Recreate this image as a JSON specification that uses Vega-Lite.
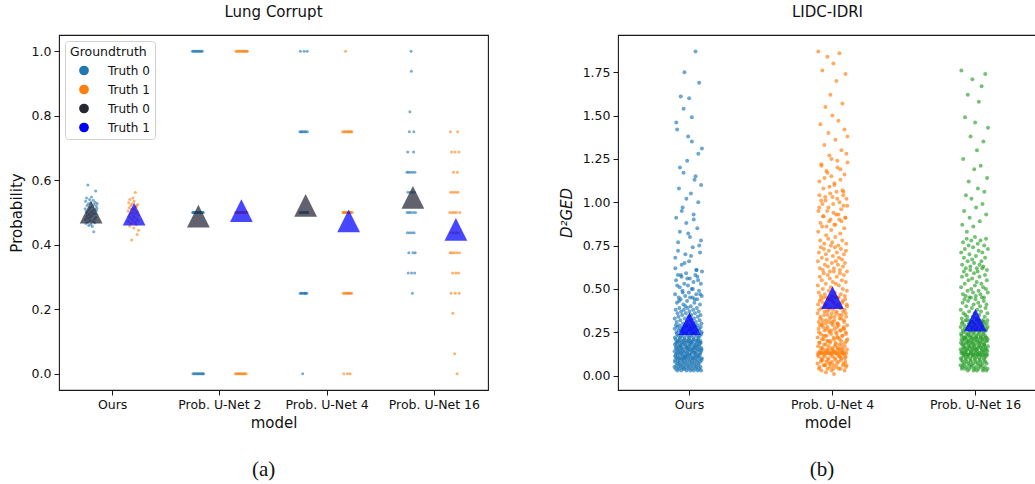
{
"$schema": "https://vega.github.io/schema/vega-lite/v6.json",
"background": "white",
"padding": {"left": 8, "top": 4, "right": 0, "bottom": 0},
"config": {
 "font": "DejaVu Sans",
 "view": {"stroke": "#1a1a1a", "strokeWidth": 1.1},
 "axis": {"grid": false, "domain": false, "tickColor": "#1a1a1a", "tickSize": 5, "tickWidth": 1, "labelFont": "DejaVu Sans", "labelFontSize": 12.5, "labelColor": "#111", "labelPadding": 3, "titleFont": "DejaVu Sans", "titleFontSize": 15, "titleFontWeight": "normal", "titleColor": "#111"},
 "axisX": {"labelAngle": 0, "titlePadding": 5},
 "axisY": {"titlePadding": 7},
 "title": {"font": "DejaVu Sans", "fontSize": 15, "fontWeight": "normal", "color": "#111", "anchor": "middle"}
},
"resolve": {"scale": {"color": "independent"}, "legend": {"color": "independent"}},
"datasets": {
"lung": [
{"m":"Ours","g":"Truth 0","v":0.512},{"m":"Ours","g":"Truth 0","v":0.478},{"m":"Ours","g":"Truth 0","v":0.535},{"m":"Ours","g":"Truth 0","v":0.466},{"m":"Ours","g":"Truth 0","v":0.503},{"m":"Ours","g":"Truth 0","v":0.545},{"m":"Ours","g":"Truth 0","v":0.488},{"m":"Ours","g":"Truth 0","v":0.522},{"m":"Ours","g":"Truth 0","v":0.470},{"m":"Ours","g":"Truth 0","v":0.498},{"m":"Ours","g":"Truth 0","v":0.585},{"m":"Ours","g":"Truth 0","v":0.482},{"m":"Ours","g":"Truth 0","v":0.527},{"m":"Ours","g":"Truth 0","v":0.460},{"m":"Ours","g":"Truth 0","v":0.508},{"m":"Ours","g":"Truth 0","v":0.493},{"m":"Ours","g":"Truth 0","v":0.540},{"m":"Ours","g":"Truth 0","v":0.475},{"m":"Ours","g":"Truth 0","v":0.515},{"m":"Ours","g":"Truth 0","v":0.486},{"m":"Ours","g":"Truth 0","v":0.530},{"m":"Ours","g":"Truth 0","v":0.463},{"m":"Ours","g":"Truth 0","v":0.500},{"m":"Ours","g":"Truth 0","v":0.548},{"m":"Ours","g":"Truth 0","v":0.490},{"m":"Ours","g":"Truth 0","v":0.518},{"m":"Ours","g":"Truth 0","v":0.457},{"m":"Ours","g":"Truth 0","v":0.505},{"m":"Ours","g":"Truth 0","v":0.472},{"m":"Ours","g":"Truth 0","v":0.538},{"m":"Ours","g":"Truth 0","v":0.495},{"m":"Ours","g":"Truth 0","v":0.440},{"m":"Ours","g":"Truth 0","v":0.525},{"m":"Ours","g":"Truth 0","v":0.480},{"m":"Ours","g":"Truth 0","v":0.510},{"m":"Ours","g":"Truth 0","v":0.468},{"m":"Ours","g":"Truth 0","v":0.532},{"m":"Ours","g":"Truth 0","v":0.497},{"m":"Ours","g":"Truth 0","v":0.567},{"m":"Ours","g":"Truth 0","v":0.485},{"m":"Ours","g":"Truth 0","v":0.520},{"m":"Ours","g":"Truth 0","v":0.506},{"m":"Ours","g":"Truth 0","v":0.513},{"m":"Ours","g":"Truth 0","v":0.528},
{"m":"Ours","g":"Truth 1","v":0.505},{"m":"Ours","g":"Truth 1","v":0.472},{"m":"Ours","g":"Truth 1","v":0.530},{"m":"Ours","g":"Truth 1","v":0.487},{"m":"Ours","g":"Truth 1","v":0.515},{"m":"Ours","g":"Truth 1","v":0.458},{"m":"Ours","g":"Truth 1","v":0.540},{"m":"Ours","g":"Truth 1","v":0.495},{"m":"Ours","g":"Truth 1","v":0.482},{"m":"Ours","g":"Truth 1","v":0.522},{"m":"Ours","g":"Truth 1","v":0.466},{"m":"Ours","g":"Truth 1","v":0.510},{"m":"Ours","g":"Truth 1","v":0.415},{"m":"Ours","g":"Truth 1","v":0.500},{"m":"Ours","g":"Truth 1","v":0.527},{"m":"Ours","g":"Truth 1","v":0.477},{"m":"Ours","g":"Truth 1","v":0.545},{"m":"Ours","g":"Truth 1","v":0.490},{"m":"Ours","g":"Truth 1","v":0.512},{"m":"Ours","g":"Truth 1","v":0.452},{"m":"Ours","g":"Truth 1","v":0.535},{"m":"Ours","g":"Truth 1","v":0.485},{"m":"Ours","g":"Truth 1","v":0.507},{"m":"Ours","g":"Truth 1","v":0.470},{"m":"Ours","g":"Truth 1","v":0.562},{"m":"Ours","g":"Truth 1","v":0.498},{"m":"Ours","g":"Truth 1","v":0.517},{"m":"Ours","g":"Truth 1","v":0.462},{"m":"Ours","g":"Truth 1","v":0.520},{"m":"Ours","g":"Truth 1","v":0.480},{"m":"Ours","g":"Truth 1","v":0.432},{"m":"Ours","g":"Truth 1","v":0.502},{"m":"Ours","g":"Truth 1","v":0.525},{"m":"Ours","g":"Truth 1","v":0.475},{"m":"Ours","g":"Truth 1","v":0.492},{"m":"Ours","g":"Truth 1","v":0.445},
{"m":"Prob. U-Net 2","g":"Truth 0","v":1},{"m":"Prob. U-Net 2","g":"Truth 0","v":0.5},{"m":"Prob. U-Net 2","g":"Truth 0","v":0},{"m":"Prob. U-Net 2","g":"Truth 0","v":0.5},{"m":"Prob. U-Net 2","g":"Truth 0","v":1},{"m":"Prob. U-Net 2","g":"Truth 0","v":0.5},{"m":"Prob. U-Net 2","g":"Truth 0","v":0},{"m":"Prob. U-Net 2","g":"Truth 0","v":0.5},{"m":"Prob. U-Net 2","g":"Truth 0","v":1},{"m":"Prob. U-Net 2","g":"Truth 0","v":0.5},{"m":"Prob. U-Net 2","g":"Truth 0","v":0},{"m":"Prob. U-Net 2","g":"Truth 0","v":0.5},{"m":"Prob. U-Net 2","g":"Truth 0","v":1},{"m":"Prob. U-Net 2","g":"Truth 0","v":0.5},{"m":"Prob. U-Net 2","g":"Truth 0","v":0},{"m":"Prob. U-Net 2","g":"Truth 0","v":0.5},{"m":"Prob. U-Net 2","g":"Truth 0","v":1},{"m":"Prob. U-Net 2","g":"Truth 0","v":0.5},{"m":"Prob. U-Net 2","g":"Truth 0","v":0},{"m":"Prob. U-Net 2","g":"Truth 0","v":0.5},{"m":"Prob. U-Net 2","g":"Truth 0","v":1},{"m":"Prob. U-Net 2","g":"Truth 0","v":0.5},{"m":"Prob. U-Net 2","g":"Truth 0","v":0},{"m":"Prob. U-Net 2","g":"Truth 0","v":0.5},{"m":"Prob. U-Net 2","g":"Truth 0","v":1},{"m":"Prob. U-Net 2","g":"Truth 0","v":0.5},{"m":"Prob. U-Net 2","g":"Truth 0","v":0},{"m":"Prob. U-Net 2","g":"Truth 0","v":0.5},{"m":"Prob. U-Net 2","g":"Truth 0","v":1},{"m":"Prob. U-Net 2","g":"Truth 0","v":0.5},{"m":"Prob. U-Net 2","g":"Truth 0","v":0},{"m":"Prob. U-Net 2","g":"Truth 0","v":0.5},{"m":"Prob. U-Net 2","g":"Truth 0","v":1},{"m":"Prob. U-Net 2","g":"Truth 0","v":0.5},{"m":"Prob. U-Net 2","g":"Truth 0","v":0},{"m":"Prob. U-Net 2","g":"Truth 0","v":0.5},{"m":"Prob. U-Net 2","g":"Truth 0","v":1},{"m":"Prob. U-Net 2","g":"Truth 0","v":0.5},{"m":"Prob. U-Net 2","g":"Truth 0","v":0},{"m":"Prob. U-Net 2","g":"Truth 0","v":0.5},{"m":"Prob. U-Net 2","g":"Truth 0","v":0},
{"m":"Prob. U-Net 2","g":"Truth 1","v":0},{"m":"Prob. U-Net 2","g":"Truth 1","v":0.5},{"m":"Prob. U-Net 2","g":"Truth 1","v":1},{"m":"Prob. U-Net 2","g":"Truth 1","v":0.5},{"m":"Prob. U-Net 2","g":"Truth 1","v":0},{"m":"Prob. U-Net 2","g":"Truth 1","v":0.5},{"m":"Prob. U-Net 2","g":"Truth 1","v":1},{"m":"Prob. U-Net 2","g":"Truth 1","v":0.5},{"m":"Prob. U-Net 2","g":"Truth 1","v":0},{"m":"Prob. U-Net 2","g":"Truth 1","v":0.5},{"m":"Prob. U-Net 2","g":"Truth 1","v":1},{"m":"Prob. U-Net 2","g":"Truth 1","v":0.5},{"m":"Prob. U-Net 2","g":"Truth 1","v":0},{"m":"Prob. U-Net 2","g":"Truth 1","v":0.5},{"m":"Prob. U-Net 2","g":"Truth 1","v":1},{"m":"Prob. U-Net 2","g":"Truth 1","v":0.5},{"m":"Prob. U-Net 2","g":"Truth 1","v":0},{"m":"Prob. U-Net 2","g":"Truth 1","v":0.5},{"m":"Prob. U-Net 2","g":"Truth 1","v":1},{"m":"Prob. U-Net 2","g":"Truth 1","v":0.5},{"m":"Prob. U-Net 2","g":"Truth 1","v":0},{"m":"Prob. U-Net 2","g":"Truth 1","v":0.5},{"m":"Prob. U-Net 2","g":"Truth 1","v":1},{"m":"Prob. U-Net 2","g":"Truth 1","v":0.5},{"m":"Prob. U-Net 2","g":"Truth 1","v":0},{"m":"Prob. U-Net 2","g":"Truth 1","v":0.5},{"m":"Prob. U-Net 2","g":"Truth 1","v":1},{"m":"Prob. U-Net 2","g":"Truth 1","v":0.5},{"m":"Prob. U-Net 2","g":"Truth 1","v":0},{"m":"Prob. U-Net 2","g":"Truth 1","v":0.5},{"m":"Prob. U-Net 2","g":"Truth 1","v":1},{"m":"Prob. U-Net 2","g":"Truth 1","v":0.5},{"m":"Prob. U-Net 2","g":"Truth 1","v":0},{"m":"Prob. U-Net 2","g":"Truth 1","v":0.5},{"m":"Prob. U-Net 2","g":"Truth 1","v":1},{"m":"Prob. U-Net 2","g":"Truth 1","v":0.5},{"m":"Prob. U-Net 2","g":"Truth 1","v":0},{"m":"Prob. U-Net 2","g":"Truth 1","v":0.5},{"m":"Prob. U-Net 2","g":"Truth 1","v":1},{"m":"Prob. U-Net 2","g":"Truth 1","v":0.5},{"m":"Prob. U-Net 2","g":"Truth 1","v":1},
{"m":"Prob. U-Net 4","g":"Truth 0","v":0.5},{"m":"Prob. U-Net 4","g":"Truth 0","v":0.75},{"m":"Prob. U-Net 4","g":"Truth 0","v":0.25},{"m":"Prob. U-Net 4","g":"Truth 0","v":1},{"m":"Prob. U-Net 4","g":"Truth 0","v":0.5},{"m":"Prob. U-Net 4","g":"Truth 0","v":0.75},{"m":"Prob. U-Net 4","g":"Truth 0","v":0.25},{"m":"Prob. U-Net 4","g":"Truth 0","v":0.5},{"m":"Prob. U-Net 4","g":"Truth 0","v":0.25},{"m":"Prob. U-Net 4","g":"Truth 0","v":0.75},{"m":"Prob. U-Net 4","g":"Truth 0","v":0.5},{"m":"Prob. U-Net 4","g":"Truth 0","v":0},{"m":"Prob. U-Net 4","g":"Truth 0","v":0.5},{"m":"Prob. U-Net 4","g":"Truth 0","v":0.75},{"m":"Prob. U-Net 4","g":"Truth 0","v":0.25},{"m":"Prob. U-Net 4","g":"Truth 0","v":0.5},{"m":"Prob. U-Net 4","g":"Truth 0","v":1},{"m":"Prob. U-Net 4","g":"Truth 0","v":0.25},{"m":"Prob. U-Net 4","g":"Truth 0","v":0.5},{"m":"Prob. U-Net 4","g":"Truth 0","v":0.75},{"m":"Prob. U-Net 4","g":"Truth 0","v":0.25},{"m":"Prob. U-Net 4","g":"Truth 0","v":0.5},{"m":"Prob. U-Net 4","g":"Truth 0","v":0.75},{"m":"Prob. U-Net 4","g":"Truth 0","v":0.25},{"m":"Prob. U-Net 4","g":"Truth 0","v":0.5},{"m":"Prob. U-Net 4","g":"Truth 0","v":0.5},{"m":"Prob. U-Net 4","g":"Truth 0","v":0.25},{"m":"Prob. U-Net 4","g":"Truth 0","v":1},{"m":"Prob. U-Net 4","g":"Truth 0","v":0.75},{"m":"Prob. U-Net 4","g":"Truth 0","v":0.5},{"m":"Prob. U-Net 4","g":"Truth 0","v":0.5},
{"m":"Prob. U-Net 4","g":"Truth 1","v":0.75},{"m":"Prob. U-Net 4","g":"Truth 1","v":0.5},{"m":"Prob. U-Net 4","g":"Truth 1","v":0.25},{"m":"Prob. U-Net 4","g":"Truth 1","v":0.5},{"m":"Prob. U-Net 4","g":"Truth 1","v":0},{"m":"Prob. U-Net 4","g":"Truth 1","v":0.75},{"m":"Prob. U-Net 4","g":"Truth 1","v":0.5},{"m":"Prob. U-Net 4","g":"Truth 1","v":0.25},{"m":"Prob. U-Net 4","g":"Truth 1","v":0.75},{"m":"Prob. U-Net 4","g":"Truth 1","v":0.5},{"m":"Prob. U-Net 4","g":"Truth 1","v":1},{"m":"Prob. U-Net 4","g":"Truth 1","v":0.25},{"m":"Prob. U-Net 4","g":"Truth 1","v":0.5},{"m":"Prob. U-Net 4","g":"Truth 1","v":0.75},{"m":"Prob. U-Net 4","g":"Truth 1","v":0.5},{"m":"Prob. U-Net 4","g":"Truth 1","v":0.25},{"m":"Prob. U-Net 4","g":"Truth 1","v":0},{"m":"Prob. U-Net 4","g":"Truth 1","v":0.75},{"m":"Prob. U-Net 4","g":"Truth 1","v":0.5},{"m":"Prob. U-Net 4","g":"Truth 1","v":0.25},{"m":"Prob. U-Net 4","g":"Truth 1","v":0.75},{"m":"Prob. U-Net 4","g":"Truth 1","v":0.5},{"m":"Prob. U-Net 4","g":"Truth 1","v":0.25},{"m":"Prob. U-Net 4","g":"Truth 1","v":0.5},{"m":"Prob. U-Net 4","g":"Truth 1","v":0.75},{"m":"Prob. U-Net 4","g":"Truth 1","v":0},{"m":"Prob. U-Net 4","g":"Truth 1","v":0.25},{"m":"Prob. U-Net 4","g":"Truth 1","v":0.5},{"m":"Prob. U-Net 4","g":"Truth 1","v":0.75},{"m":"Prob. U-Net 4","g":"Truth 1","v":0.5},{"m":"Prob. U-Net 4","g":"Truth 1","v":0.25},{"m":"Prob. U-Net 4","g":"Truth 1","v":0.75},{"m":"Prob. U-Net 4","g":"Truth 1","v":0.5},
{"m":"Prob. U-Net 16","g":"Truth 0","v":0.625},{"m":"Prob. U-Net 16","g":"Truth 0","v":0.5},{"m":"Prob. U-Net 16","g":"Truth 0","v":0.4375},{"m":"Prob. U-Net 16","g":"Truth 0","v":0.6875},{"m":"Prob. U-Net 16","g":"Truth 0","v":0.5625},{"m":"Prob. U-Net 16","g":"Truth 0","v":0.3125},{"m":"Prob. U-Net 16","g":"Truth 0","v":0.625},{"m":"Prob. U-Net 16","g":"Truth 0","v":0.375},{"m":"Prob. U-Net 16","g":"Truth 0","v":0.5},{"m":"Prob. U-Net 16","g":"Truth 0","v":0.75},{"m":"Prob. U-Net 16","g":"Truth 0","v":0.4375},{"m":"Prob. U-Net 16","g":"Truth 0","v":0.8125},{"m":"Prob. U-Net 16","g":"Truth 0","v":0.5625},{"m":"Prob. U-Net 16","g":"Truth 0","v":0.625},{"m":"Prob. U-Net 16","g":"Truth 0","v":0.5},{"m":"Prob. U-Net 16","g":"Truth 0","v":1},{"m":"Prob. U-Net 16","g":"Truth 0","v":0.9375},{"m":"Prob. U-Net 16","g":"Truth 0","v":0.3125},{"m":"Prob. U-Net 16","g":"Truth 0","v":0.4375},{"m":"Prob. U-Net 16","g":"Truth 0","v":0.5625},{"m":"Prob. U-Net 16","g":"Truth 0","v":0.25},{"m":"Prob. U-Net 16","g":"Truth 0","v":0.625},{"m":"Prob. U-Net 16","g":"Truth 0","v":0.375},{"m":"Prob. U-Net 16","g":"Truth 0","v":0.5},{"m":"Prob. U-Net 16","g":"Truth 0","v":0.6875},{"m":"Prob. U-Net 16","g":"Truth 0","v":0.75},{"m":"Prob. U-Net 16","g":"Truth 0","v":0.4375},{"m":"Prob. U-Net 16","g":"Truth 0","v":0.5625},{"m":"Prob. U-Net 16","g":"Truth 0","v":0.3125},{"m":"Prob. U-Net 16","g":"Truth 0","v":0.625},{"m":"Prob. U-Net 16","g":"Truth 0","v":0.375},{"m":"Prob. U-Net 16","g":"Truth 0","v":0.5},
{"m":"Prob. U-Net 16","g":"Truth 1","v":0.5},{"m":"Prob. U-Net 16","g":"Truth 1","v":0.375},{"m":"Prob. U-Net 16","g":"Truth 1","v":0.75},{"m":"Prob. U-Net 16","g":"Truth 1","v":0.5625},{"m":"Prob. U-Net 16","g":"Truth 1","v":0.25},{"m":"Prob. U-Net 16","g":"Truth 1","v":0.4375},{"m":"Prob. U-Net 16","g":"Truth 1","v":0.6875},{"m":"Prob. U-Net 16","g":"Truth 1","v":0.375},{"m":"Prob. U-Net 16","g":"Truth 1","v":0.5},{"m":"Prob. U-Net 16","g":"Truth 1","v":0.3125},{"m":"Prob. U-Net 16","g":"Truth 1","v":0.1875},{"m":"Prob. U-Net 16","g":"Truth 1","v":0.5625},{"m":"Prob. U-Net 16","g":"Truth 1","v":0.625},{"m":"Prob. U-Net 16","g":"Truth 1","v":0.4375},{"m":"Prob. U-Net 16","g":"Truth 1","v":0.375},{"m":"Prob. U-Net 16","g":"Truth 1","v":0.5},{"m":"Prob. U-Net 16","g":"Truth 1","v":0.0625},{"m":"Prob. U-Net 16","g":"Truth 1","v":0.6875},{"m":"Prob. U-Net 16","g":"Truth 1","v":0.25},{"m":"Prob. U-Net 16","g":"Truth 1","v":0.5625},{"m":"Prob. U-Net 16","g":"Truth 1","v":0.3125},{"m":"Prob. U-Net 16","g":"Truth 1","v":0.4375},{"m":"Prob. U-Net 16","g":"Truth 1","v":0.5},{"m":"Prob. U-Net 16","g":"Truth 1","v":0.375},{"m":"Prob. U-Net 16","g":"Truth 1","v":0},{"m":"Prob. U-Net 16","g":"Truth 1","v":0.625},{"m":"Prob. U-Net 16","g":"Truth 1","v":0.75},{"m":"Prob. U-Net 16","g":"Truth 1","v":0.5625},{"m":"Prob. U-Net 16","g":"Truth 1","v":0.4375},{"m":"Prob. U-Net 16","g":"Truth 1","v":0.3125},{"m":"Prob. U-Net 16","g":"Truth 1","v":0.6875},{"m":"Prob. U-Net 16","g":"Truth 1","v":0.25},{"m":"Prob. U-Net 16","g":"Truth 1","v":0.375},{"m":"Prob. U-Net 16","g":"Truth 1","v":0.5}
],
"lungmean": [
{"m":"Ours","g":"Truth 0 mean","v":0.501},{"m":"Ours","g":"Truth 1 mean","v":0.495},
{"m":"Prob. U-Net 2","g":"Truth 0 mean","v":0.489},{"m":"Prob. U-Net 2","g":"Truth 1 mean","v":0.506},
{"m":"Prob. U-Net 4","g":"Truth 0 mean","v":0.522},{"m":"Prob. U-Net 4","g":"Truth 1 mean","v":0.474},
{"m":"Prob. U-Net 16","g":"Truth 0 mean","v":0.547},{"m":"Prob. U-Net 16","g":"Truth 1 mean","v":0.448}
],
"ged": [
{"m":"Ours","v":0.05},{"m":"Ours","v":0.14},{"m":"Ours","v":0.27},{"m":"Ours","v":0.33},{"m":"Ours","v":0.08},{"m":"Ours","v":0.18},{"m":"Ours","v":0.22},{"m":"Ours","v":0.47},{"m":"Ours","v":0.11},{"m":"Ours","v":0.68},{"m":"Ours","v":0.62},
{"m":"Ours","v":0.09},{"m":"Ours","v":0.12},{"m":"Ours","v":0.21},{"m":"Ours","v":0.38},{"m":"Ours","v":0.04},{"m":"Ours","v":0.16},{"m":"Ours","v":0.29},{"m":"Ours","v":0.55},{"m":"Ours","v":0.19},{"m":"Ours","v":0.91},{"m":"Ours","v":1.46},
{"m":"Ours","v":0.06},{"m":"Ours","v":0.17},{"m":"Ours","v":0.25},{"m":"Ours","v":0.31},{"m":"Ours","v":0.10},{"m":"Ours","v":0.13},{"m":"Ours","v":0.24},{"m":"Ours","v":0.42},{"m":"Ours","v":0.15},{"m":"Ours","v":1.42},{"m":"Ours","v":0.52},
{"m":"Ours","v":0.03},{"m":"Ours","v":0.19},{"m":"Ours","v":0.28},{"m":"Ours","v":0.36},{"m":"Ours","v":0.07},{"m":"Ours","v":0.11},{"m":"Ours","v":0.20},{"m":"Ours","v":0.58},{"m":"Ours","v":0.13},{"m":"Ours","v":0.72},{"m":"Ours","v":0.77},
{"m":"Ours","v":0.08},{"m":"Ours","v":0.15},{"m":"Ours","v":0.23},{"m":"Ours","v":0.34},{"m":"Ours","v":0.05},{"m":"Ours","v":0.20},{"m":"Ours","v":0.26},{"m":"Ours","v":0.45},{"m":"Ours","v":0.17},{"m":"Ours","v":1.08},{"m":"Ours","v":0.43},
{"m":"Ours","v":0.04},{"m":"Ours","v":0.10},{"m":"Ours","v":0.29},{"m":"Ours","v":0.39},{"m":"Ours","v":0.09},{"m":"Ours","v":0.14},{"m":"Ours","v":0.21},{"m":"Ours","v":0.51},{"m":"Ours","v":0.12},{"m":"Ours","v":0.83},{"m":"Ours","v":1.20},
{"m":"Ours","v":0.07},{"m":"Ours","v":0.18},{"m":"Ours","v":0.22},{"m":"Ours","v":0.32},{"m":"Ours","v":0.06},{"m":"Ours","v":0.17},{"m":"Ours","v":0.27},{"m":"Ours","v":0.44},{"m":"Ours","v":0.16},{"m":"Ours","v":1.61},{"m":"Ours","v":0.58},
{"m":"Ours","v":0.10},{"m":"Ours","v":0.13},{"m":"Ours","v":0.26},{"m":"Ours","v":0.37},{"m":"Ours","v":0.03},{"m":"Ours","v":0.19},{"m":"Ours","v":0.23},{"m":"Ours","v":0.57},{"m":"Ours","v":0.14},{"m":"Ours","v":0.64},{"m":"Ours","v":0.95},
{"m":"Ours","v":0.05},{"m":"Ours","v":0.16},{"m":"Ours","v":0.20},{"m":"Ours","v":0.35},{"m":"Ours","v":0.08},{"m":"Ours","v":0.12},{"m":"Ours","v":0.28},{"m":"Ours","v":0.49},{"m":"Ours","v":0.18},{"m":"Ours","v":0.97},{"m":"Ours","v":0.48},
{"m":"Ours","v":0.09},{"m":"Ours","v":0.11},{"m":"Ours","v":0.24},{"m":"Ours","v":0.30},{"m":"Ours","v":0.04},{"m":"Ours","v":0.15},{"m":"Ours","v":0.25},{"m":"Ours","v":0.41},{"m":"Ours","v":0.10},{"m":"Ours","v":1.17},{"m":"Ours","v":1.54},
{"m":"Ours","v":0.06},{"m":"Ours","v":0.20},{"m":"Ours","v":0.27},{"m":"Ours","v":0.38},{"m":"Ours","v":0.07},{"m":"Ours","v":0.13},{"m":"Ours","v":0.22},{"m":"Ours","v":0.53},{"m":"Ours","v":0.19},{"m":"Ours","v":1.75},{"m":"Ours","v":0.65},
{"m":"Ours","v":0.04},{"m":"Ours","v":0.14},{"m":"Ours","v":0.21},{"m":"Ours","v":0.33},{"m":"Ours","v":0.10},{"m":"Ours","v":0.18},{"m":"Ours","v":0.29},{"m":"Ours","v":0.46},{"m":"Ours","v":0.11},{"m":"Ours","v":0.70},{"m":"Ours","v":0.40},
{"m":"Ours","v":0.08},{"m":"Ours","v":0.17},{"m":"Ours","v":0.25},{"m":"Ours","v":0.36},{"m":"Ours","v":0.05},{"m":"Ours","v":0.11},{"m":"Ours","v":0.24},{"m":"Ours","v":0.59},{"m":"Ours","v":0.16},{"m":"Ours","v":0.88},{"m":"Ours","v":1.02},
{"m":"Ours","v":0.03},{"m":"Ours","v":0.12},{"m":"Ours","v":0.28},{"m":"Ours","v":0.31},{"m":"Ours","v":0.09},{"m":"Ours","v":0.16},{"m":"Ours","v":0.20},{"m":"Ours","v":0.43},{"m":"Ours","v":0.13},{"m":"Ours","v":1.24},{"m":"Ours","v":0.56},
{"m":"Ours","v":0.07},{"m":"Ours","v":0.19},{"m":"Ours","v":0.23},{"m":"Ours","v":0.39},{"m":"Ours","v":0.06},{"m":"Ours","v":0.14},{"m":"Ours","v":0.26},{"m":"Ours","v":0.52},{"m":"Ours","v":0.17},{"m":"Ours","v":1.38},{"m":"Ours","v":0.82},
{"m":"Ours","v":0.10},{"m":"Ours","v":0.15},{"m":"Ours","v":0.29},{"m":"Ours","v":0.34},{"m":"Ours","v":0.04},{"m":"Ours","v":0.20},{"m":"Ours","v":0.21},{"m":"Ours","v":0.48},{"m":"Ours","v":0.12},{"m":"Ours","v":0.66},{"m":"Ours","v":1.60},
{"m":"Ours","v":0.05},{"m":"Ours","v":0.11},{"m":"Ours","v":0.22},{"m":"Ours","v":0.37},{"m":"Ours","v":0.08},{"m":"Ours","v":0.17},{"m":"Ours","v":0.27},{"m":"Ours","v":0.56},{"m":"Ours","v":0.15},{"m":"Ours","v":0.80},{"m":"Ours","v":0.45},
{"m":"Ours","v":0.09},{"m":"Ours","v":0.18},{"m":"Ours","v":0.26},{"m":"Ours","v":0.32},{"m":"Ours","v":0.03},{"m":"Ours","v":0.12},{"m":"Ours","v":0.23},{"m":"Ours","v":0.40},{"m":"Ours","v":0.19},{"m":"Ours","v":1.05},{"m":"Ours","v":0.69},
{"m":"Ours","v":0.06},{"m":"Ours","v":0.13},{"m":"Ours","v":0.20},{"m":"Ours","v":0.35},{"m":"Ours","v":0.07},{"m":"Ours","v":0.19},{"m":"Ours","v":0.28},{"m":"Ours","v":0.50},{"m":"Ours","v":0.14},{"m":"Ours","v":1.49},{"m":"Ours","v":1.35},
{"m":"Ours","v":0.04},{"m":"Ours","v":0.16},{"m":"Ours","v":0.24},{"m":"Ours","v":0.30},{"m":"Ours","v":0.10},{"m":"Ours","v":0.15},{"m":"Ours","v":0.25},{"m":"Ours","v":0.45},{"m":"Ours","v":0.10},{"m":"Ours","v":0.74},{"m":"Ours","v":0.50},
{"m":"Ours","v":0.08},{"m":"Ours","v":0.20},{"m":"Ours","v":0.27},{"m":"Ours","v":0.38},{"m":"Ours","v":0.05},{"m":"Ours","v":0.11},{"m":"Ours","v":0.22},{"m":"Ours","v":0.54},{"m":"Ours","v":0.18},{"m":"Ours","v":0.93},{"m":"Ours","v":0.90},
{"m":"Ours","v":0.03},{"m":"Ours","v":0.14},{"m":"Ours","v":0.21},{"m":"Ours","v":0.33},{"m":"Ours","v":0.09},{"m":"Ours","v":0.16},{"m":"Ours","v":0.29},{"m":"Ours","v":0.42},{"m":"Ours","v":0.13},{"m":"Ours","v":1.13},{"m":"Ours","v":0.44},
{"m":"Ours","v":0.07},{"m":"Ours","v":0.17},{"m":"Ours","v":0.25},{"m":"Ours","v":0.36},{"m":"Ours","v":0.06},{"m":"Ours","v":0.13},{"m":"Ours","v":0.24},{"m":"Ours","v":0.58},{"m":"Ours","v":0.16},{"m":"Ours","v":1.87},{"m":"Ours","v":1.15},
{"m":"Ours","v":0.10},{"m":"Ours","v":0.12},{"m":"Ours","v":0.28},{"m":"Ours","v":0.31},{"m":"Ours","v":0.04},{"m":"Ours","v":0.18},{"m":"Ours","v":0.20},{"m":"Ours","v":0.47},{"m":"Ours","v":0.11},{"m":"Ours","v":0.61},{"m":"Ours","v":0.61},
{"m":"Ours","v":0.05},{"m":"Ours","v":0.19},{"m":"Ours","v":0.23},{"m":"Ours","v":0.39},{"m":"Ours","v":0.08},{"m":"Ours","v":0.14},{"m":"Ours","v":0.26},{"m":"Ours","v":0.44},{"m":"Ours","v":0.17},{"m":"Ours","v":0.85},{"m":"Ours","v":0.57},
{"m":"Ours","v":0.09},{"m":"Ours","v":0.15},{"m":"Ours","v":0.29},{"m":"Ours","v":0.34},{"m":"Ours","v":0.03},{"m":"Ours","v":0.20},{"m":"Ours","v":0.21},{"m":"Ours","v":0.55},{"m":"Ours","v":0.12},{"m":"Ours","v":1.00},{"m":"Ours","v":1.28},
{"m":"Ours","v":0.06},{"m":"Ours","v":0.11},{"m":"Ours","v":0.22},{"m":"Ours","v":0.37},{"m":"Ours","v":0.07},{"m":"Ours","v":0.17},{"m":"Ours","v":0.27},{"m":"Ours","v":0.49},{"m":"Ours","v":0.15},{"m":"Ours","v":1.69},{"m":"Ours","v":0.75},
{"m":"Ours","v":0.04},{"m":"Ours","v":0.18},{"m":"Ours","v":0.26},{"m":"Ours","v":0.32},{"m":"Ours","v":0.10},{"m":"Ours","v":0.12},{"m":"Ours","v":0.23},{"m":"Ours","v":0.41},{"m":"Ours","v":0.19},{"m":"Ours","v":0.71},{"m":"Ours","v":0.47},
{"m":"Ours","v":0.08},{"m":"Ours","v":0.13},{"m":"Ours","v":0.20},{"m":"Ours","v":0.35},{"m":"Ours","v":0.05},{"m":"Ours","v":0.19},{"m":"Ours","v":0.28},{"m":"Ours","v":0.53},{"m":"Ours","v":0.14},{"m":"Ours","v":0.78},{"m":"Ours","v":1.10},
{"m":"Ours","v":0.03},{"m":"Ours","v":0.16},{"m":"Ours","v":0.24},{"m":"Ours","v":0.30},{"m":"Ours","v":0.09},{"m":"Ours","v":0.15},{"m":"Ours","v":0.25},{"m":"Ours","v":0.46},{"m":"Ours","v":0.10},{"m":"Ours","v":1.31},{"m":"Ours","v":0.60},
{"m":"Prob. U-Net 4","v":0.07},{"m":"Prob. U-Net 4","v":0.22},{"m":"Prob. U-Net 4","v":0.36},{"m":"Prob. U-Net 4","v":0.52},{"m":"Prob. U-Net 4","v":0.66},{"m":"Prob. U-Net 4","v":0.12},{"m":"Prob. U-Net 4","v":0.17},{"m":"Prob. U-Net 4","v":0.41},{"m":"Prob. U-Net 4","v":0.83},{"m":"Prob. U-Net 4","v":0.13},{"m":"Prob. U-Net 4","v":1.87},{"m":"Prob. U-Net 4","v":0.95},
{"m":"Prob. U-Net 4","v":0.11},{"m":"Prob. U-Net 4","v":0.27},{"m":"Prob. U-Net 4","v":0.31},{"m":"Prob. U-Net 4","v":0.48},{"m":"Prob. U-Net 4","v":0.71},{"m":"Prob. U-Net 4","v":0.04},{"m":"Prob. U-Net 4","v":0.25},{"m":"Prob. U-Net 4","v":0.38},{"m":"Prob. U-Net 4","v":0.97},{"m":"Prob. U-Net 4","v":0.19},{"m":"Prob. U-Net 4","v":1.12},{"m":"Prob. U-Net 4","v":1.04},
{"m":"Prob. U-Net 4","v":0.05},{"m":"Prob. U-Net 4","v":0.19},{"m":"Prob. U-Net 4","v":0.43},{"m":"Prob. U-Net 4","v":0.57},{"m":"Prob. U-Net 4","v":0.62},{"m":"Prob. U-Net 4","v":0.14},{"m":"Prob. U-Net 4","v":0.29},{"m":"Prob. U-Net 4","v":0.33},{"m":"Prob. U-Net 4","v":0.78},{"m":"Prob. U-Net 4","v":0.13},{"m":"Prob. U-Net 4","v":1.45},{"m":"Prob. U-Net 4","v":0.88},
{"m":"Prob. U-Net 4","v":0.13},{"m":"Prob. U-Net 4","v":0.24},{"m":"Prob. U-Net 4","v":0.34},{"m":"Prob. U-Net 4","v":0.46},{"m":"Prob. U-Net 4","v":0.74},{"m":"Prob. U-Net 4","v":0.08},{"m":"Prob. U-Net 4","v":0.16},{"m":"Prob. U-Net 4","v":0.44},{"m":"Prob. U-Net 4","v":1.01},{"m":"Prob. U-Net 4","v":0.09},{"m":"Prob. U-Net 4","v":1.22},{"m":"Prob. U-Net 4","v":1.21},
{"m":"Prob. U-Net 4","v":0.03},{"m":"Prob. U-Net 4","v":0.29},{"m":"Prob. U-Net 4","v":0.39},{"m":"Prob. U-Net 4","v":0.55},{"m":"Prob. U-Net 4","v":0.68},{"m":"Prob. U-Net 4","v":0.10},{"m":"Prob. U-Net 4","v":0.21},{"m":"Prob. U-Net 4","v":0.30},{"m":"Prob. U-Net 4","v":0.86},{"m":"Prob. U-Net 4","v":0.13},{"m":"Prob. U-Net 4","v":1.76},{"m":"Prob. U-Net 4","v":0.99},
{"m":"Prob. U-Net 4","v":0.09},{"m":"Prob. U-Net 4","v":0.16},{"m":"Prob. U-Net 4","v":0.32},{"m":"Prob. U-Net 4","v":0.50},{"m":"Prob. U-Net 4","v":0.61},{"m":"Prob. U-Net 4","v":0.15},{"m":"Prob. U-Net 4","v":0.28},{"m":"Prob. U-Net 4","v":0.42},{"m":"Prob. U-Net 4","v":0.92},{"m":"Prob. U-Net 4","v":0.23},{"m":"Prob. U-Net 4","v":1.08},{"m":"Prob. U-Net 4","v":0.92},
{"m":"Prob. U-Net 4","v":0.12},{"m":"Prob. U-Net 4","v":0.21},{"m":"Prob. U-Net 4","v":0.45},{"m":"Prob. U-Net 4","v":0.59},{"m":"Prob. U-Net 4","v":0.73},{"m":"Prob. U-Net 4","v":0.06},{"m":"Prob. U-Net 4","v":0.18},{"m":"Prob. U-Net 4","v":0.35},{"m":"Prob. U-Net 4","v":0.76},{"m":"Prob. U-Net 4","v":0.13},{"m":"Prob. U-Net 4","v":1.33},{"m":"Prob. U-Net 4","v":1.14},
{"m":"Prob. U-Net 4","v":0.06},{"m":"Prob. U-Net 4","v":0.26},{"m":"Prob. U-Net 4","v":0.37},{"m":"Prob. U-Net 4","v":0.47},{"m":"Prob. U-Net 4","v":0.64},{"m":"Prob. U-Net 4","v":0.11},{"m":"Prob. U-Net 4","v":0.23},{"m":"Prob. U-Net 4","v":0.40},{"m":"Prob. U-Net 4","v":1.03},{"m":"Prob. U-Net 4","v":0.06},{"m":"Prob. U-Net 4","v":1.55},{"m":"Prob. U-Net 4","v":1.01},
{"m":"Prob. U-Net 4","v":0.14},{"m":"Prob. U-Net 4","v":0.18},{"m":"Prob. U-Net 4","v":0.30},{"m":"Prob. U-Net 4","v":0.53},{"m":"Prob. U-Net 4","v":0.70},{"m":"Prob. U-Net 4","v":0.02},{"m":"Prob. U-Net 4","v":0.27},{"m":"Prob. U-Net 4","v":0.32},{"m":"Prob. U-Net 4","v":0.81},{"m":"Prob. U-Net 4","v":0.13},{"m":"Prob. U-Net 4","v":1.18},{"m":"Prob. U-Net 4","v":0.86},
{"m":"Prob. U-Net 4","v":0.08},{"m":"Prob. U-Net 4","v":0.23},{"m":"Prob. U-Net 4","v":0.41},{"m":"Prob. U-Net 4","v":0.45},{"m":"Prob. U-Net 4","v":0.67},{"m":"Prob. U-Net 4","v":0.13},{"m":"Prob. U-Net 4","v":0.15},{"m":"Prob. U-Net 4","v":0.37},{"m":"Prob. U-Net 4","v":0.95},{"m":"Prob. U-Net 4","v":0.20},{"m":"Prob. U-Net 4","v":1.84},{"m":"Prob. U-Net 4","v":1.17},
{"m":"Prob. U-Net 4","v":0.04},{"m":"Prob. U-Net 4","v":0.28},{"m":"Prob. U-Net 4","v":0.35},{"m":"Prob. U-Net 4","v":0.58},{"m":"Prob. U-Net 4","v":0.63},{"m":"Prob. U-Net 4","v":0.09},{"m":"Prob. U-Net 4","v":0.20},{"m":"Prob. U-Net 4","v":0.44},{"m":"Prob. U-Net 4","v":0.79},{"m":"Prob. U-Net 4","v":0.13},{"m":"Prob. U-Net 4","v":1.40},{"m":"Prob. U-Net 4","v":0.97},
{"m":"Prob. U-Net 4","v":0.10},{"m":"Prob. U-Net 4","v":0.17},{"m":"Prob. U-Net 4","v":0.38},{"m":"Prob. U-Net 4","v":0.49},{"m":"Prob. U-Net 4","v":0.72},{"m":"Prob. U-Net 4","v":0.15},{"m":"Prob. U-Net 4","v":0.26},{"m":"Prob. U-Net 4","v":0.31},{"m":"Prob. U-Net 4","v":0.89},{"m":"Prob. U-Net 4","v":0.07},{"m":"Prob. U-Net 4","v":1.27},{"m":"Prob. U-Net 4","v":1.09},
{"m":"Prob. U-Net 4","v":0.13},{"m":"Prob. U-Net 4","v":0.25},{"m":"Prob. U-Net 4","v":0.33},{"m":"Prob. U-Net 4","v":0.56},{"m":"Prob. U-Net 4","v":0.60},{"m":"Prob. U-Net 4","v":0.05},{"m":"Prob. U-Net 4","v":0.19},{"m":"Prob. U-Net 4","v":0.39},{"m":"Prob. U-Net 4","v":1.05},{"m":"Prob. U-Net 4","v":0.13},{"m":"Prob. U-Net 4","v":1.62},{"m":"Prob. U-Net 4","v":0.90},
{"m":"Prob. U-Net 4","v":0.07},{"m":"Prob. U-Net 4","v":0.20},{"m":"Prob. U-Net 4","v":0.44},{"m":"Prob. U-Net 4","v":0.51},{"m":"Prob. U-Net 4","v":0.75},{"m":"Prob. U-Net 4","v":0.12},{"m":"Prob. U-Net 4","v":0.24},{"m":"Prob. U-Net 4","v":0.34},{"m":"Prob. U-Net 4","v":0.84},{"m":"Prob. U-Net 4","v":0.26},{"m":"Prob. U-Net 4","v":1.15},{"m":"Prob. U-Net 4","v":1.25},
{"m":"Prob. U-Net 4","v":0.03},{"m":"Prob. U-Net 4","v":0.30},{"m":"Prob. U-Net 4","v":0.36},{"m":"Prob. U-Net 4","v":0.46},{"m":"Prob. U-Net 4","v":0.65},{"m":"Prob. U-Net 4","v":0.08},{"m":"Prob. U-Net 4","v":0.16},{"m":"Prob. U-Net 4","v":0.43},{"m":"Prob. U-Net 4","v":0.77},{"m":"Prob. U-Net 4","v":0.13},{"m":"Prob. U-Net 4","v":1.50},{"m":"Prob. U-Net 4","v":1.03},
{"m":"Prob. U-Net 4","v":0.11},{"m":"Prob. U-Net 4","v":0.15},{"m":"Prob. U-Net 4","v":0.31},{"m":"Prob. U-Net 4","v":0.54},{"m":"Prob. U-Net 4","v":0.69},{"m":"Prob. U-Net 4","v":0.14},{"m":"Prob. U-Net 4","v":0.29},{"m":"Prob. U-Net 4","v":0.38},{"m":"Prob. U-Net 4","v":0.99},{"m":"Prob. U-Net 4","v":0.04},{"m":"Prob. U-Net 4","v":1.80},{"m":"Prob. U-Net 4","v":0.94},
{"m":"Prob. U-Net 4","v":0.06},{"m":"Prob. U-Net 4","v":0.22},{"m":"Prob. U-Net 4","v":0.42},{"m":"Prob. U-Net 4","v":0.60},{"m":"Prob. U-Net 4","v":0.62},{"m":"Prob. U-Net 4","v":0.01},{"m":"Prob. U-Net 4","v":0.21},{"m":"Prob. U-Net 4","v":0.32},{"m":"Prob. U-Net 4","v":0.87},{"m":"Prob. U-Net 4","v":0.13},{"m":"Prob. U-Net 4","v":1.10},{"m":"Prob. U-Net 4","v":1.11},
{"m":"Prob. U-Net 4","v":0.14},{"m":"Prob. U-Net 4","v":0.27},{"m":"Prob. U-Net 4","v":0.34},{"m":"Prob. U-Net 4","v":0.48},{"m":"Prob. U-Net 4","v":0.74},{"m":"Prob. U-Net 4","v":0.10},{"m":"Prob. U-Net 4","v":0.17},{"m":"Prob. U-Net 4","v":0.45},{"m":"Prob. U-Net 4","v":0.80},{"m":"Prob. U-Net 4","v":0.18},{"m":"Prob. U-Net 4","v":1.36},{"m":"Prob. U-Net 4","v":0.87},
{"m":"Prob. U-Net 4","v":0.09},{"m":"Prob. U-Net 4","v":0.19},{"m":"Prob. U-Net 4","v":0.40},{"m":"Prob. U-Net 4","v":0.53},{"m":"Prob. U-Net 4","v":0.66},{"m":"Prob. U-Net 4","v":0.13},{"m":"Prob. U-Net 4","v":0.25},{"m":"Prob. U-Net 4","v":0.36},{"m":"Prob. U-Net 4","v":0.93},{"m":"Prob. U-Net 4","v":0.13},{"m":"Prob. U-Net 4","v":1.70},{"m":"Prob. U-Net 4","v":1.06},
{"m":"Prob. U-Net 4","v":0.05},{"m":"Prob. U-Net 4","v":0.24},{"m":"Prob. U-Net 4","v":0.37},{"m":"Prob. U-Net 4","v":0.57},{"m":"Prob. U-Net 4","v":0.71},{"m":"Prob. U-Net 4","v":0.07},{"m":"Prob. U-Net 4","v":0.28},{"m":"Prob. U-Net 4","v":0.30},{"m":"Prob. U-Net 4","v":1.02},{"m":"Prob. U-Net 4","v":0.22},{"m":"Prob. U-Net 4","v":1.24},{"m":"Prob. U-Net 4","v":1.20},
{"m":"Prob. U-Net 4","v":0.12},{"m":"Prob. U-Net 4","v":0.16},{"m":"Prob. U-Net 4","v":0.30},{"m":"Prob. U-Net 4","v":0.45},{"m":"Prob. U-Net 4","v":0.64},{"m":"Prob. U-Net 4","v":0.15},{"m":"Prob. U-Net 4","v":0.22},{"m":"Prob. U-Net 4","v":0.41},{"m":"Prob. U-Net 4","v":0.75},{"m":"Prob. U-Net 4","v":0.13},{"m":"Prob. U-Net 4","v":1.47},{"m":"Prob. U-Net 4","v":0.93},
{"m":"Prob. U-Net 4","v":0.08},{"m":"Prob. U-Net 4","v":0.29},{"m":"Prob. U-Net 4","v":0.45},{"m":"Prob. U-Net 4","v":0.52},{"m":"Prob. U-Net 4","v":0.68},{"m":"Prob. U-Net 4","v":0.04},{"m":"Prob. U-Net 4","v":0.18},{"m":"Prob. U-Net 4","v":0.35},{"m":"Prob. U-Net 4","v":0.90},{"m":"Prob. U-Net 4","v":0.11},{"m":"Prob. U-Net 4","v":1.86},{"m":"Prob. U-Net 4","v":1.00},
{"m":"Prob. U-Net 4","v":0.15},{"m":"Prob. U-Net 4","v":0.21},{"m":"Prob. U-Net 4","v":0.33},{"m":"Prob. U-Net 4","v":0.59},{"m":"Prob. U-Net 4","v":0.61},{"m":"Prob. U-Net 4","v":0.11},{"m":"Prob. U-Net 4","v":0.26},{"m":"Prob. U-Net 4","v":0.39},{"m":"Prob. U-Net 4","v":0.82},{"m":"Prob. U-Net 4","v":0.13},{"m":"Prob. U-Net 4","v":1.19},{"m":"Prob. U-Net 4","v":1.13},
{"m":"Prob. U-Net 4","v":0.04},{"m":"Prob. U-Net 4","v":0.26},{"m":"Prob. U-Net 4","v":0.39},{"m":"Prob. U-Net 4","v":0.47},{"m":"Prob. U-Net 4","v":0.73},{"m":"Prob. U-Net 4","v":0.09},{"m":"Prob. U-Net 4","v":0.20},{"m":"Prob. U-Net 4","v":0.33},{"m":"Prob. U-Net 4","v":0.96},{"m":"Prob. U-Net 4","v":0.16},{"m":"Prob. U-Net 4","v":1.30},{"m":"Prob. U-Net 4","v":0.89},
{"m":"Prob. U-Net 4","v":0.10},{"m":"Prob. U-Net 4","v":0.18},{"m":"Prob. U-Net 4","v":0.35},{"m":"Prob. U-Net 4","v":0.55},{"m":"Prob. U-Net 4","v":0.67},{"m":"Prob. U-Net 4","v":0.14},{"m":"Prob. U-Net 4","v":0.23},{"m":"Prob. U-Net 4","v":0.42},{"m":"Prob. U-Net 4","v":0.78},{"m":"Prob. U-Net 4","v":0.13},{"m":"Prob. U-Net 4","v":1.57},{"m":"Prob. U-Net 4","v":1.07},
{"m":"Prob. U-Net 4","v":0.13},{"m":"Prob. U-Net 4","v":0.23},{"m":"Prob. U-Net 4","v":0.43},{"m":"Prob. U-Net 4","v":0.50},{"m":"Prob. U-Net 4","v":0.63},{"m":"Prob. U-Net 4","v":0.06},{"m":"Prob. U-Net 4","v":0.15},{"m":"Prob. U-Net 4","v":0.37},{"m":"Prob. U-Net 4","v":1.04},{"m":"Prob. U-Net 4","v":0.27},{"m":"Prob. U-Net 4","v":1.06},{"m":"Prob. U-Net 4","v":0.98},
{"m":"Prob. U-Net 4","v":0.07},{"m":"Prob. U-Net 4","v":0.28},{"m":"Prob. U-Net 4","v":0.32},{"m":"Prob. U-Net 4","v":0.58},{"m":"Prob. U-Net 4","v":0.70},{"m":"Prob. U-Net 4","v":0.12},{"m":"Prob. U-Net 4","v":0.27},{"m":"Prob. U-Net 4","v":0.31},{"m":"Prob. U-Net 4","v":0.85},{"m":"Prob. U-Net 4","v":0.13},{"m":"Prob. U-Net 4","v":1.42},{"m":"Prob. U-Net 4","v":1.16},
{"m":"Prob. U-Net 4","v":0.03},{"m":"Prob. U-Net 4","v":0.17},{"m":"Prob. U-Net 4","v":0.38},{"m":"Prob. U-Net 4","v":0.46},{"m":"Prob. U-Net 4","v":0.65},{"m":"Prob. U-Net 4","v":0.10},{"m":"Prob. U-Net 4","v":0.19},{"m":"Prob. U-Net 4","v":0.44},{"m":"Prob. U-Net 4","v":0.91},{"m":"Prob. U-Net 4","v":0.08},{"m":"Prob. U-Net 4","v":1.74},{"m":"Prob. U-Net 4","v":0.91},
{"m":"Prob. U-Net 4","v":0.11},{"m":"Prob. U-Net 4","v":0.25},{"m":"Prob. U-Net 4","v":0.36},{"m":"Prob. U-Net 4","v":0.54},{"m":"Prob. U-Net 4","v":0.72},{"m":"Prob. U-Net 4","v":0.05},{"m":"Prob. U-Net 4","v":0.24},{"m":"Prob. U-Net 4","v":0.34},{"m":"Prob. U-Net 4","v":0.76},{"m":"Prob. U-Net 4","v":0.13},{"m":"Prob. U-Net 4","v":1.28},{"m":"Prob. U-Net 4","v":1.02},
{"m":"Prob. U-Net 4","v":0.06},{"m":"Prob. U-Net 4","v":0.20},{"m":"Prob. U-Net 4","v":0.41},{"m":"Prob. U-Net 4","v":0.49},{"m":"Prob. U-Net 4","v":0.60},{"m":"Prob. U-Net 4","v":0.15},{"m":"Prob. U-Net 4","v":0.29},{"m":"Prob. U-Net 4","v":0.40},{"m":"Prob. U-Net 4","v":0.98},{"m":"Prob. U-Net 4","v":0.21},{"m":"Prob. U-Net 4","v":1.38},{"m":"Prob. U-Net 4","v":1.23},
{"m":"Prob. U-Net 16","v":0.06},{"m":"Prob. U-Net 16","v":0.15},{"m":"Prob. U-Net 16","v":0.28},{"m":"Prob. U-Net 16","v":0.38},{"m":"Prob. U-Net 16","v":0.10},{"m":"Prob. U-Net 16","v":0.19},{"m":"Prob. U-Net 16","v":0.24},{"m":"Prob. U-Net 16","v":0.51},{"m":"Prob. U-Net 16","v":0.71},{"m":"Prob. U-Net 16","v":0.13},{"m":"Prob. U-Net 16","v":1.76},
{"m":"Prob. U-Net 16","v":0.09},{"m":"Prob. U-Net 16","v":0.21},{"m":"Prob. U-Net 16","v":0.23},{"m":"Prob. U-Net 16","v":0.33},{"m":"Prob. U-Net 16","v":0.04},{"m":"Prob. U-Net 16","v":0.14},{"m":"Prob. U-Net 16","v":0.30},{"m":"Prob. U-Net 16","v":0.57},{"m":"Prob. U-Net 16","v":0.64},{"m":"Prob. U-Net 16","v":0.18},{"m":"Prob. U-Net 16","v":0.87},
{"m":"Prob. U-Net 16","v":0.05},{"m":"Prob. U-Net 16","v":0.13},{"m":"Prob. U-Net 16","v":0.31},{"m":"Prob. U-Net 16","v":0.42},{"m":"Prob. U-Net 16","v":0.08},{"m":"Prob. U-Net 16","v":0.20},{"m":"Prob. U-Net 16","v":0.26},{"m":"Prob. U-Net 16","v":0.47},{"m":"Prob. U-Net 16","v":0.77},{"m":"Prob. U-Net 16","v":0.16},{"m":"Prob. U-Net 16","v":1.25},
{"m":"Prob. U-Net 16","v":0.11},{"m":"Prob. U-Net 16","v":0.18},{"m":"Prob. U-Net 16","v":0.25},{"m":"Prob. U-Net 16","v":0.36},{"m":"Prob. U-Net 16","v":0.06},{"m":"Prob. U-Net 16","v":0.12},{"m":"Prob. U-Net 16","v":0.22},{"m":"Prob. U-Net 16","v":0.60},{"m":"Prob. U-Net 16","v":0.68},{"m":"Prob. U-Net 16","v":0.21},{"m":"Prob. U-Net 16","v":0.95},
{"m":"Prob. U-Net 16","v":0.07},{"m":"Prob. U-Net 16","v":0.16},{"m":"Prob. U-Net 16","v":0.29},{"m":"Prob. U-Net 16","v":0.44},{"m":"Prob. U-Net 16","v":0.12},{"m":"Prob. U-Net 16","v":0.17},{"m":"Prob. U-Net 16","v":0.27},{"m":"Prob. U-Net 16","v":0.53},{"m":"Prob. U-Net 16","v":0.73},{"m":"Prob. U-Net 16","v":0.14},{"m":"Prob. U-Net 16","v":1.49},
{"m":"Prob. U-Net 16","v":0.04},{"m":"Prob. U-Net 16","v":0.22},{"m":"Prob. U-Net 16","v":0.22},{"m":"Prob. U-Net 16","v":0.35},{"m":"Prob. U-Net 16","v":0.09},{"m":"Prob. U-Net 16","v":0.13},{"m":"Prob. U-Net 16","v":0.32},{"m":"Prob. U-Net 16","v":0.46},{"m":"Prob. U-Net 16","v":0.62},{"m":"Prob. U-Net 16","v":0.19},{"m":"Prob. U-Net 16","v":1.04},
{"m":"Prob. U-Net 16","v":0.10},{"m":"Prob. U-Net 16","v":0.14},{"m":"Prob. U-Net 16","v":0.27},{"m":"Prob. U-Net 16","v":0.40},{"m":"Prob. U-Net 16","v":0.05},{"m":"Prob. U-Net 16","v":0.21},{"m":"Prob. U-Net 16","v":0.24},{"m":"Prob. U-Net 16","v":0.58},{"m":"Prob. U-Net 16","v":0.79},{"m":"Prob. U-Net 16","v":0.15},{"m":"Prob. U-Net 16","v":0.83},
{"m":"Prob. U-Net 16","v":0.08},{"m":"Prob. U-Net 16","v":0.19},{"m":"Prob. U-Net 16","v":0.32},{"m":"Prob. U-Net 16","v":0.34},{"m":"Prob. U-Net 16","v":0.11},{"m":"Prob. U-Net 16","v":0.16},{"m":"Prob. U-Net 16","v":0.28},{"m":"Prob. U-Net 16","v":0.49},{"m":"Prob. U-Net 16","v":0.66},{"m":"Prob. U-Net 16","v":0.12},{"m":"Prob. U-Net 16","v":1.62},
{"m":"Prob. U-Net 16","v":0.03},{"m":"Prob. U-Net 16","v":0.12},{"m":"Prob. U-Net 16","v":0.24},{"m":"Prob. U-Net 16","v":0.43},{"m":"Prob. U-Net 16","v":0.07},{"m":"Prob. U-Net 16","v":0.18},{"m":"Prob. U-Net 16","v":0.23},{"m":"Prob. U-Net 16","v":0.55},{"m":"Prob. U-Net 16","v":0.75},{"m":"Prob. U-Net 16","v":0.20},{"m":"Prob. U-Net 16","v":1.12},
{"m":"Prob. U-Net 16","v":0.12},{"m":"Prob. U-Net 16","v":0.20},{"m":"Prob. U-Net 16","v":0.30},{"m":"Prob. U-Net 16","v":0.37},{"m":"Prob. U-Net 16","v":0.04},{"m":"Prob. U-Net 16","v":0.15},{"m":"Prob. U-Net 16","v":0.29},{"m":"Prob. U-Net 16","v":0.45},{"m":"Prob. U-Net 16","v":0.70},{"m":"Prob. U-Net 16","v":0.17},{"m":"Prob. U-Net 16","v":0.91},
{"m":"Prob. U-Net 16","v":0.06},{"m":"Prob. U-Net 16","v":0.17},{"m":"Prob. U-Net 16","v":0.26},{"m":"Prob. U-Net 16","v":0.32},{"m":"Prob. U-Net 16","v":0.10},{"m":"Prob. U-Net 16","v":0.22},{"m":"Prob. U-Net 16","v":0.25},{"m":"Prob. U-Net 16","v":0.61},{"m":"Prob. U-Net 16","v":0.63},{"m":"Prob. U-Net 16","v":0.13},{"m":"Prob. U-Net 16","v":1.38},
{"m":"Prob. U-Net 16","v":0.09},{"m":"Prob. U-Net 16","v":0.13},{"m":"Prob. U-Net 16","v":0.23},{"m":"Prob. U-Net 16","v":0.45},{"m":"Prob. U-Net 16","v":0.08},{"m":"Prob. U-Net 16","v":0.14},{"m":"Prob. U-Net 16","v":0.31},{"m":"Prob. U-Net 16","v":0.50},{"m":"Prob. U-Net 16","v":0.78},{"m":"Prob. U-Net 16","v":0.19},{"m":"Prob. U-Net 16","v":1.02},
{"m":"Prob. U-Net 16","v":0.05},{"m":"Prob. U-Net 16","v":0.21},{"m":"Prob. U-Net 16","v":0.28},{"m":"Prob. U-Net 16","v":0.39},{"m":"Prob. U-Net 16","v":0.06},{"m":"Prob. U-Net 16","v":0.19},{"m":"Prob. U-Net 16","v":0.22},{"m":"Prob. U-Net 16","v":0.56},{"m":"Prob. U-Net 16","v":0.67},{"m":"Prob. U-Net 16","v":0.16},{"m":"Prob. U-Net 16","v":1.71},
{"m":"Prob. U-Net 16","v":0.11},{"m":"Prob. U-Net 16","v":0.15},{"m":"Prob. U-Net 16","v":0.31},{"m":"Prob. U-Net 16","v":0.34},{"m":"Prob. U-Net 16","v":0.12},{"m":"Prob. U-Net 16","v":0.12},{"m":"Prob. U-Net 16","v":0.27},{"m":"Prob. U-Net 16","v":0.48},{"m":"Prob. U-Net 16","v":0.74},{"m":"Prob. U-Net 16","v":0.21},{"m":"Prob. U-Net 16","v":0.86},
{"m":"Prob. U-Net 16","v":0.07},{"m":"Prob. U-Net 16","v":0.18},{"m":"Prob. U-Net 16","v":0.25},{"m":"Prob. U-Net 16","v":0.41},{"m":"Prob. U-Net 16","v":0.03},{"m":"Prob. U-Net 16","v":0.17},{"m":"Prob. U-Net 16","v":0.24},{"m":"Prob. U-Net 16","v":0.59},{"m":"Prob. U-Net 16","v":0.65},{"m":"Prob. U-Net 16","v":0.14},{"m":"Prob. U-Net 16","v":1.19},
{"m":"Prob. U-Net 16","v":0.04},{"m":"Prob. U-Net 16","v":0.12},{"m":"Prob. U-Net 16","v":0.29},{"m":"Prob. U-Net 16","v":0.36},{"m":"Prob. U-Net 16","v":0.09},{"m":"Prob. U-Net 16","v":0.20},{"m":"Prob. U-Net 16","v":0.30},{"m":"Prob. U-Net 16","v":0.52},{"m":"Prob. U-Net 16","v":0.80},{"m":"Prob. U-Net 16","v":0.18},{"m":"Prob. U-Net 16","v":1.46},
{"m":"Prob. U-Net 16","v":0.10},{"m":"Prob. U-Net 16","v":0.16},{"m":"Prob. U-Net 16","v":0.22},{"m":"Prob. U-Net 16","v":0.44},{"m":"Prob. U-Net 16","v":0.05},{"m":"Prob. U-Net 16","v":0.13},{"m":"Prob. U-Net 16","v":0.26},{"m":"Prob. U-Net 16","v":0.46},{"m":"Prob. U-Net 16","v":0.69},{"m":"Prob. U-Net 16","v":0.15},{"m":"Prob. U-Net 16","v":0.97},
{"m":"Prob. U-Net 16","v":0.08},{"m":"Prob. U-Net 16","v":0.22},{"m":"Prob. U-Net 16","v":0.27},{"m":"Prob. U-Net 16","v":0.33},{"m":"Prob. U-Net 16","v":0.11},{"m":"Prob. U-Net 16","v":0.15},{"m":"Prob. U-Net 16","v":0.23},{"m":"Prob. U-Net 16","v":0.54},{"m":"Prob. U-Net 16","v":0.62},{"m":"Prob. U-Net 16","v":0.20},{"m":"Prob. U-Net 16","v":1.30},
{"m":"Prob. U-Net 16","v":0.03},{"m":"Prob. U-Net 16","v":0.14},{"m":"Prob. U-Net 16","v":0.32},{"m":"Prob. U-Net 16","v":0.38},{"m":"Prob. U-Net 16","v":0.07},{"m":"Prob. U-Net 16","v":0.21},{"m":"Prob. U-Net 16","v":0.28},{"m":"Prob. U-Net 16","v":0.60},{"m":"Prob. U-Net 16","v":0.76},{"m":"Prob. U-Net 16","v":0.12},{"m":"Prob. U-Net 16","v":1.08},
{"m":"Prob. U-Net 16","v":0.12},{"m":"Prob. U-Net 16","v":0.19},{"m":"Prob. U-Net 16","v":0.24},{"m":"Prob. U-Net 16","v":0.42},{"m":"Prob. U-Net 16","v":0.04},{"m":"Prob. U-Net 16","v":0.16},{"m":"Prob. U-Net 16","v":0.32},{"m":"Prob. U-Net 16","v":0.49},{"m":"Prob. U-Net 16","v":0.72},{"m":"Prob. U-Net 16","v":0.17},{"m":"Prob. U-Net 16","v":1.58},
{"m":"Prob. U-Net 16","v":0.06},{"m":"Prob. U-Net 16","v":0.13},{"m":"Prob. U-Net 16","v":0.30},{"m":"Prob. U-Net 16","v":0.35},{"m":"Prob. U-Net 16","v":0.10},{"m":"Prob. U-Net 16","v":0.18},{"m":"Prob. U-Net 16","v":0.25},{"m":"Prob. U-Net 16","v":0.57},{"m":"Prob. U-Net 16","v":0.64},{"m":"Prob. U-Net 16","v":0.13},{"m":"Prob. U-Net 16","v":0.89},
{"m":"Prob. U-Net 16","v":0.09},{"m":"Prob. U-Net 16","v":0.20},{"m":"Prob. U-Net 16","v":0.26},{"m":"Prob. U-Net 16","v":0.40},{"m":"Prob. U-Net 16","v":0.08},{"m":"Prob. U-Net 16","v":0.12},{"m":"Prob. U-Net 16","v":0.22},{"m":"Prob. U-Net 16","v":0.47},{"m":"Prob. U-Net 16","v":0.78},{"m":"Prob. U-Net 16","v":0.19},{"m":"Prob. U-Net 16","v":1.21},
{"m":"Prob. U-Net 16","v":0.05},{"m":"Prob. U-Net 16","v":0.17},{"m":"Prob. U-Net 16","v":0.23},{"m":"Prob. U-Net 16","v":0.37},{"m":"Prob. U-Net 16","v":0.06},{"m":"Prob. U-Net 16","v":0.22},{"m":"Prob. U-Net 16","v":0.29},{"m":"Prob. U-Net 16","v":0.53},{"m":"Prob. U-Net 16","v":0.66},{"m":"Prob. U-Net 16","v":0.16},{"m":"Prob. U-Net 16","v":1.67},
{"m":"Prob. U-Net 16","v":0.11},{"m":"Prob. U-Net 16","v":0.15},{"m":"Prob. U-Net 16","v":0.28},{"m":"Prob. U-Net 16","v":0.45},{"m":"Prob. U-Net 16","v":0.12},{"m":"Prob. U-Net 16","v":0.14},{"m":"Prob. U-Net 16","v":0.27},{"m":"Prob. U-Net 16","v":0.62},{"m":"Prob. U-Net 16","v":0.71},{"m":"Prob. U-Net 16","v":0.21},{"m":"Prob. U-Net 16","v":0.99},
{"m":"Prob. U-Net 16","v":0.07},{"m":"Prob. U-Net 16","v":0.21},{"m":"Prob. U-Net 16","v":0.31},{"m":"Prob. U-Net 16","v":0.32},{"m":"Prob. U-Net 16","v":0.03},{"m":"Prob. U-Net 16","v":0.19},{"m":"Prob. U-Net 16","v":0.24},{"m":"Prob. U-Net 16","v":0.51},{"m":"Prob. U-Net 16","v":0.63},{"m":"Prob. U-Net 16","v":0.14},{"m":"Prob. U-Net 16","v":1.35},
{"m":"Prob. U-Net 16","v":0.04},{"m":"Prob. U-Net 16","v":0.12},{"m":"Prob. U-Net 16","v":0.25},{"m":"Prob. U-Net 16","v":0.43},{"m":"Prob. U-Net 16","v":0.09},{"m":"Prob. U-Net 16","v":0.17},{"m":"Prob. U-Net 16","v":0.31},{"m":"Prob. U-Net 16","v":0.45},{"m":"Prob. U-Net 16","v":0.75},{"m":"Prob. U-Net 16","v":0.18},{"m":"Prob. U-Net 16","v":1.06},
{"m":"Prob. U-Net 16","v":0.10},{"m":"Prob. U-Net 16","v":0.18},{"m":"Prob. U-Net 16","v":0.29},{"m":"Prob. U-Net 16","v":0.34},{"m":"Prob. U-Net 16","v":0.05},{"m":"Prob. U-Net 16","v":0.13},{"m":"Prob. U-Net 16","v":0.23},{"m":"Prob. U-Net 16","v":0.58},{"m":"Prob. U-Net 16","v":0.68},{"m":"Prob. U-Net 16","v":0.15},{"m":"Prob. U-Net 16","v":1.74},
{"m":"Prob. U-Net 16","v":0.08},{"m":"Prob. U-Net 16","v":0.16},{"m":"Prob. U-Net 16","v":0.22},{"m":"Prob. U-Net 16","v":0.39},{"m":"Prob. U-Net 16","v":0.11},{"m":"Prob. U-Net 16","v":0.20},{"m":"Prob. U-Net 16","v":0.26},{"m":"Prob. U-Net 16","v":0.50},{"m":"Prob. U-Net 16","v":0.79},{"m":"Prob. U-Net 16","v":0.12},{"m":"Prob. U-Net 16","v":0.93},
{"m":"Prob. U-Net 16","v":0.03},{"m":"Prob. U-Net 16","v":0.22},{"m":"Prob. U-Net 16","v":0.27},{"m":"Prob. U-Net 16","v":0.41},{"m":"Prob. U-Net 16","v":0.07},{"m":"Prob. U-Net 16","v":0.15},{"m":"Prob. U-Net 16","v":0.30},{"m":"Prob. U-Net 16","v":0.55},{"m":"Prob. U-Net 16","v":0.61},{"m":"Prob. U-Net 16","v":0.20},{"m":"Prob. U-Net 16","v":1.14},
{"m":"Prob. U-Net 16","v":0.12},{"m":"Prob. U-Net 16","v":0.14},{"m":"Prob. U-Net 16","v":0.32},{"m":"Prob. U-Net 16","v":0.36},{"m":"Prob. U-Net 16","v":0.04},{"m":"Prob. U-Net 16","v":0.21},{"m":"Prob. U-Net 16","v":0.28},{"m":"Prob. U-Net 16","v":0.48},{"m":"Prob. U-Net 16","v":0.73},{"m":"Prob. U-Net 16","v":0.17},{"m":"Prob. U-Net 16","v":1.43}
],
"gedmean": [
{"m":"Ours","v":0.30},{"m":"Prob. U-Net 4","v":0.45},{"m":"Prob. U-Net 16","v":0.32}
]
},
"spacing": 69,
"hconcat": [
{
 "title": {"text": "(a)", "orient": "bottom", "font": "Liberation Serif", "fontSize": 21, "fontWeight": "normal", "color": "#111", "offset": 28, "dx": 15, "anchor": "middle"},
 "vconcat": [
 {
  "width": 429, "height": 355,
  "title": {"text": "Lung Corrupt", "offset": 3, "baseline": "alphabetic"},
  "resolve": {"scale": {"xOffset": "independent"}},
  "layer": [
  {
   "data": {"name": "lung"},
   "transform": [{"filter": "datum.g == 'Truth 0'"}, {"window": [{"op": "row_number", "as": "j"}], "groupby": ["m"]}],
   "mark": {"type": "circle", "size": 9, "opacity": 0.6},
   "encoding": {
    "x": {"field": "m", "type": "nominal", "sort": null, "scale": {"domain": ["Ours", "Prob. U-Net 2", "Prob. U-Net 4", "Prob. U-Net 16"], "paddingInner": 0, "paddingOuter": 0}, "title": "model"},
    "xOffset": {"field": "j", "type": "quantitative", "scale": {"range": [26.1, 38.1], "zero": false, "nice": false}},
    "y": {"field": "v", "type": "quantitative", "scale": {"domain": [-0.05, 1.05], "nice": false, "zero": false}, "axis": {"values": [0, 0.2, 0.4, 0.6, 0.8, 1.0], "format": ".1f"}, "title": "Probability"},
    "color": {"field": "g", "type": "nominal", "title": "Groundtruth",
      "scale": {"domain": ["Truth 0", "Truth 1", "Truth 0 mean", "Truth 1 mean"], "range": ["#1f77b4", "#ff7f0e", "#262636", "#0000ff"]},
      "legend": {"orient": "top-left", "offset": 6, "symbolType": "circle", "symbolSize": 95, "symbolOpacity": 1, "symbolStrokeWidth": 0, "labelFontSize": 12, "labelColor": "#111", "titleFontSize": 12.5, "titleFontWeight": "normal", "titleColor": "#111", "strokeColor": "#d0d0d0", "fillColor": "white", "cornerRadius": 3, "padding": 5, "rowPadding": 7, "labelOffset": 18, "symbolOffset": 8, "titlePadding": 6, "labelExpr": "replace(datum.label, ' mean', '')", "encode": {"symbols": {"update": {"opacity": {"value": 1}}}}}}
   }
  },
  {
   "data": {"name": "lung"},
   "transform": [{"filter": "datum.g == 'Truth 1'"}, {"window": [{"op": "row_number", "as": "j"}], "groupby": ["m"]}],
   "mark": {"type": "circle", "size": 9, "opacity": 0.6},
   "encoding": {
    "x": {"field": "m", "type": "nominal", "sort": null, "title": "model"},
    "xOffset": {"field": "j", "type": "quantitative", "scale": {"range": [69.1, 81.1], "zero": false, "nice": false}},
    "y": {"field": "v", "type": "quantitative", "title": "Probability"},
    "color": {"field": "g", "type": "nominal", "title": "Groundtruth"}
   }
  },
  {
   "data": {"name": "lungmean"},
   "transform": [{"filter": "datum.g == 'Truth 0 mean'"}],
   "mark": {"type": "point", "shape": "M-1,1L1,1L0,-1Z", "filled": true, "size": 520, "opacity": 0.72, "strokeWidth": 0, "xOffset": -21.5},
   "encoding": {
    "x": {"field": "m", "type": "nominal", "sort": null, "title": "model"},
    "y": {"field": "v", "type": "quantitative", "title": "Probability"},
    "color": {"field": "g", "type": "nominal", "title": "Groundtruth"}
   }
  },
  {
   "data": {"name": "lungmean"},
   "transform": [{"filter": "datum.g == 'Truth 1 mean'"}],
   "mark": {"type": "point", "shape": "M-1,1L1,1L0,-1Z", "filled": true, "size": 520, "opacity": 0.72, "strokeWidth": 0, "xOffset": 21.5},
   "encoding": {
    "x": {"field": "m", "type": "nominal", "sort": null, "title": "model"},
    "y": {"field": "v", "type": "quantitative", "title": "Probability"},
    "color": {"field": "g", "type": "nominal", "title": "Groundtruth"}
   }
  }
  ]
 }
 ]
},
{
 "title": {"text": "(b)", "orient": "bottom", "font": "Liberation Serif", "fontSize": 21, "fontWeight": "normal", "color": "#111", "offset": 28, "dx": 24, "anchor": "middle"},
 "vconcat": [
 {
  "width": 419, "height": 355,
  "title": {"text": "LIDC-IDRI", "offset": 3, "baseline": "alphabetic"},
  "layer": [
  {
   "data": {"name": "ged"},
   "transform": [{"window": [{"op": "row_number", "as": "j"}], "groupby": ["m"]}],
   "mark": {"type": "circle", "size": 16, "opacity": 0.65},
   "encoding": {
    "x": {"field": "m", "type": "nominal", "sort": null, "scale": {"domain": ["Ours", "Prob. U-Net 4", "Prob. U-Net 16"], "paddingInner": 0.14, "paddingOuter": 0.035, "align": 1}, "title": "model"},
    "xOffset": {"field": "j", "type": "quantitative", "scale": {"range": [46.5, 76.5], "zero": false, "nice": false}},
    "y": {"field": "v", "type": "quantitative", "scale": {"domain": [-0.083, 1.965], "nice": false, "zero": false}, "axis": {"values": [0, 0.25, 0.5, 0.75, 1, 1.25, 1.5, 1.75], "format": ".2f", "titleFontStyle": "italic", "titlePadding": 8}, "title": "D²GED"},
    "color": {"field": "m", "type": "nominal", "scale": {"domain": ["Ours", "Prob. U-Net 4", "Prob. U-Net 16"], "range": ["#1f77b4", "#ff7f0e", "#2ca02c"]}, "legend": null}
   }
  },
  {
   "data": {"name": "gedmean"},
   "mark": {"type": "point", "shape": "M-1,1L1,1L0,-1Z", "filled": true, "size": 520, "opacity": 0.8, "color": "#0000ff", "strokeWidth": 0},
   "encoding": {
    "x": {"field": "m", "type": "nominal", "sort": null, "title": "model"},
    "y": {"field": "v", "type": "quantitative", "title": "D²GED"}
   }
  }
  ]
 }
 ]
}
]
}
